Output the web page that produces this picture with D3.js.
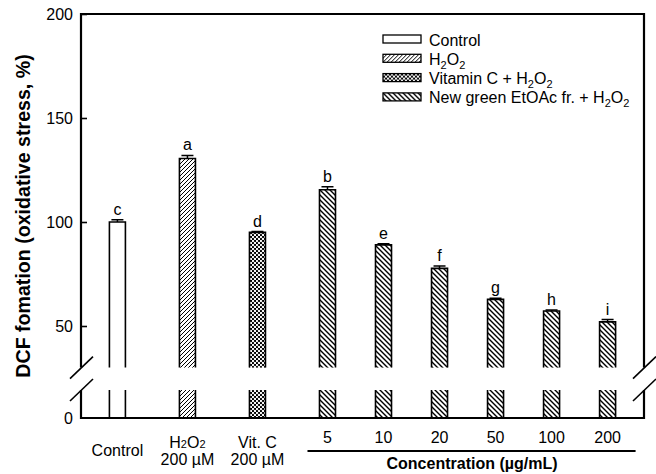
<!DOCTYPE html>
<html>
<head>
<meta charset="utf-8">
<script src="https://cdn.jsdelivr.net/npm/d3@7"></script>
<style>
  body { margin: 0; background: #fff; }
  text { font-family: "Liberation Sans", Arial, sans-serif; fill: #000; }
</style>
</head>
<body>
<script>
// données
const categories = ['Control', 'H2O2', 'VitC', '5', '10', '20', '50', '100', '200'];
const groups = ['control', 'h2o2', 'vitc', 'etoac', 'etoac', 'etoac', 'etoac', 'etoac', 'etoac'];
const values = [100, 130.5, 95, 115.5, 89, 77.7, 62.8, 57.2, 52];
const errors = [1.1, 1.5, 0.4, 1.5, 0.5, 1.2, 0.5, 0.5, 1.1];
const letters = ['c', 'a', 'd', 'b', 'e', 'f', 'g', 'h', 'i'];
const yTicksTop = [50, 100, 150, 200];
const yTicksBottom = [0];
const concLabels = ['5', '10', '20', '50', '100', '200'];
const legendGroups = ['control', 'h2o2', 'vitc', 'etoac'];

const W = 656, H = 474;
const svg = d3.select('body').append('svg').attr('width', W).attr('height', H);

// motifs de remplissage
const defs = svg.append('defs');
const p1 = defs.append('pattern').attr('id', 'pat-h2o2')
  .attr('patternUnits', 'userSpaceOnUse').attr('width', 4).attr('height', 4);
p1.append('path').attr('d', 'M-1,1 L1,-1 M0,4 L4,0 M3,5 L5,3')
  .attr('stroke', '#000').attr('stroke-width', 1);
const p2 = defs.append('pattern').attr('id', 'pat-vitc')
  .attr('patternUnits', 'userSpaceOnUse').attr('width', 4).attr('height', 4);
p2.append('rect').attr('width', 4).attr('height', 4).attr('fill', '#000');
p2.append('circle').attr('cx', 1).attr('cy', 1).attr('r', 1.15).attr('fill', '#fff');
p2.append('circle').attr('cx', 3).attr('cy', 3).attr('r', 1.15).attr('fill', '#fff');
const p3 = defs.append('pattern').attr('id', 'pat-etoac')
  .attr('patternUnits', 'userSpaceOnUse').attr('width', 5).attr('height', 5);
p3.append('path').attr('d', 'M-1,4 L1,6 M0,0 L5,5 M4,-1 L6,1')
  .attr('stroke', '#000').attr('stroke-width', 1.4);

const fills = {
  control: '#fff',
  h2o2: 'url(#pat-h2o2)',
  vitc: 'url(#pat-vitc)',
  etoac: 'url(#pat-etoac)'
};

// position des barres (les trois premiers groupes plus espacés)
const slot = i => i < 3 ? i * 1.25 : 3.75 + (i - 3);
const x = d3.scaleLinear().domain([-0.65, 9.4]).range([81, 644]);
const barW = 16;

// échelles y (axe brisé)
const yTop = d3.scaleLinear().domain([30, 200]).range([367.6, 14]);
const yBot = d3.scaleLinear().domain([0, 13.5]).range([418, 390]);
const breakTop = yTop(30), breakBot = yBot(13.5);

const data = categories.map((c, i) => ({
  cat: c, group: groups[i], v: values[i], err: errors[i], letter: letters[i], pos: slot(i)
}));

// barres
const bars = svg.append('g').selectAll('g').data(data).join('g');
bars.append('rect')
  .attr('x', d => x(d.pos) - barW / 2).attr('width', barW)
  .attr('y', d => yTop(d.v)).attr('height', d => breakTop - yTop(d.v))
  .attr('fill', d => fills[d.group]);
bars.append('rect')
  .attr('x', d => x(d.pos) - barW / 2).attr('width', barW)
  .attr('y', breakBot).attr('height', yBot(0) - breakBot)
  .attr('fill', d => fills[d.group]);
bars.append('path')
  .attr('d', d => {
    const x0 = x(d.pos) - barW / 2, x1 = x(d.pos) + barW / 2, yt = yTop(d.v);
    return `M${x0},${breakTop}L${x0},${yt}L${x1},${yt}L${x1},${breakTop}` +
      `M${x0},${breakBot}L${x0},${yBot(0)}M${x1},${breakBot}L${x1},${yBot(0)}`;
  })
  .attr('fill', 'none').attr('stroke', '#000').attr('stroke-width', 1.6);

// barres d'erreur
bars.append('path')
  .attr('d', d => {
    const cx = x(d.pos), y0 = yTop(d.v), y1 = yTop(d.v + d.err);
    return `M${cx},${y0}L${cx},${y1}M${cx - 6},${y1}L${cx + 6},${y1}`;
  })
  .attr('stroke', '#000').attr('stroke-width', 1.5).attr('fill', 'none');

// lettres
bars.append('text')
  .attr('x', d => x(d.pos)).attr('y', d => yTop(d.v + d.err) - 5)
  .attr('text-anchor', 'middle').attr('font-size', 16)
  .text(d => d.letter);

// axes gauche
const axL = svg.append('g').attr('transform', 'translate(81,0)');
axL.append('g').call(d3.axisLeft(yTop).tickValues(yTicksTop).tickSizeInner(-6).tickSizeOuter(0).tickPadding(8))
  .call(g => g.select('.domain').remove());
axL.append('g').call(d3.axisLeft(yBot).tickValues(yTicksBottom).tickSizeInner(0).tickSizeOuter(0).tickPadding(8))
  .call(g => g.select('.domain').remove());
svg.selectAll('.tick text').attr('font-size', 16).attr('font-family', '"Liberation Sans", Arial, sans-serif');
svg.selectAll('.tick line').attr('stroke-width', 1.6);

// cadre
const frame = svg.append('g').attr('stroke', '#000').attr('stroke-width', 2.2).attr('fill', 'none');
const xl = x.range()[0], xr = x.range()[1];
frame.append('path').attr('d',
  `M${xl},${breakTop}L${xl},${yTop(200)}L${xr},${yTop(200)}L${xr},${breakTop}` +
  `M${xl},${breakBot}L${xl},${yBot(0)}L${xr},${yBot(0)}L${xr},${breakBot}`);
// marques de rupture
[xl, xr].forEach(ax => {
  [breakTop, breakBot].forEach(yb => {
    frame.append('line')
      .attr('x1', ax - 11).attr('y1', yb + 11)
      .attr('x2', ax + 12).attr('y2', yb - 11)
      .attr('stroke-width', 1.6);
  });
});

// étiquettes de l'axe x
const xl1 = svg.append('g').attr('font-size', 16);
xl1.append('text').attr('x', x(slot(0))).attr('y', 456).attr('text-anchor', 'middle').text('Control');
const tH = xl1.append('text').attr('x', x(slot(1))).attr('y', 448).attr('text-anchor', 'middle');
tH.append('tspan').text('H');
tH.append('tspan').attr('font-size', 11).text('2');
tH.append('tspan').text('O');
tH.append('tspan').attr('font-size', 11).text('2');
xl1.append('text').attr('x', x(slot(1))).attr('y', 465).attr('text-anchor', 'middle').text('200 \u00b5M');
xl1.append('text').attr('x', x(slot(2))).attr('y', 448).attr('text-anchor', 'middle').text('Vit. C');
xl1.append('text').attr('x', x(slot(2))).attr('y', 465).attr('text-anchor', 'middle').text('200 \u00b5M');
xl1.selectAll('.conc').data(concLabels).join('text').attr('class', 'conc')
  .attr('x', (d, i) => x(slot(i + 3))).attr('y', 443).attr('text-anchor', 'middle')
  .text(d => d);

// ligne et titre de concentration
const cx0 = x(slot(3)) - 20, cx1 = x(slot(8)) + 28;
svg.append('line').attr('x1', cx0).attr('x2', cx1).attr('y1', 451).attr('y2', 451)
  .attr('stroke', '#000').attr('stroke-width', 2);
svg.append('text').attr('x', 472).attr('y', 469).attr('text-anchor', 'middle')
  .attr('font-size', 16).attr('font-weight', 'bold').text('Concentration (\u00b5g/mL)');

// titre de l'axe y
svg.append('text').attr('transform', 'translate(30,216) rotate(-90)')
  .attr('text-anchor', 'middle').attr('font-size', 19.6).attr('font-weight', 'bold')
  .text('DCF fomation (oxidative stress, %)');

// légende
const leg = svg.append('g').attr('transform', 'translate(383,35)');
const rows = leg.selectAll('g').data(legendGroups).join('g')
  .attr('transform', (d, i) => `translate(0,${i * 19.3})`);
rows.append('rect').attr('width', 38).attr('height', 8)
  .attr('fill', d => fills[d]).attr('stroke', '#000').attr('stroke-width', 1.3);
const lt = rows.append('text').attr('x', 46).attr('y', 10.5).attr('font-size', 16);
lt.filter(d => d === 'control').text('Control');
const h2 = lt.filter(d => d !== 'control');
h2.filter(d => d === 'vitc').append('tspan').text('Vitamin C + ');
h2.filter(d => d === 'etoac').append('tspan').text('New green EtOAc fr. + ');
h2.append('tspan').text('H');
h2.append('tspan').attr('font-size', 11).attr('dy', 4).text('2');
h2.append('tspan').attr('dy', -4).text('O');
h2.append('tspan').attr('font-size', 11).attr('dy', 4).text('2');
</script>
</body>
</html>
